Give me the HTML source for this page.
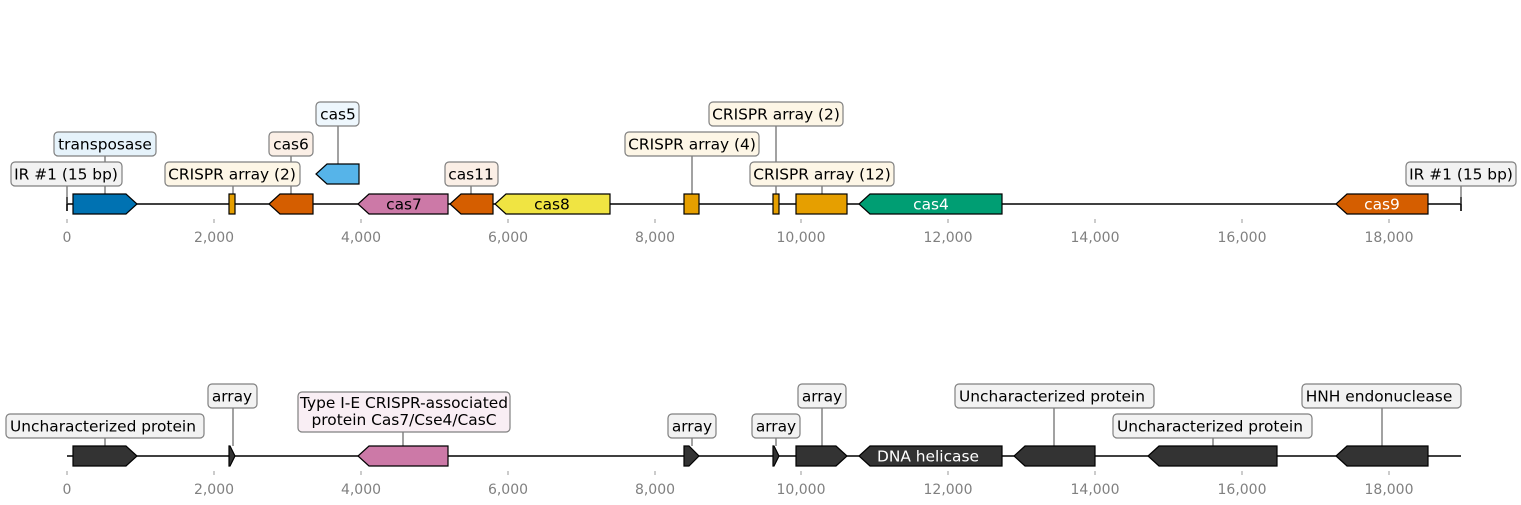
<!DOCTYPE html>
<html><head><meta charset="utf-8"><style>
html,body{margin:0;padding:0;background:#fff;}
svg{display:block;font-family:"DejaVu Sans","Liberation Sans",sans-serif;}
.lb{font-size:15.4px;text-anchor:middle;fill:#000;}
.ax{font-size:14px;text-anchor:middle;fill:#808080;}
.bx{stroke:#808080;stroke-width:1.2;}
.ld{stroke:#444;stroke-width:1;}
.f{stroke:#000;stroke-width:1.2;}
</style></head><body>
<svg width="1521" height="505" viewBox="0 0 1521 505">
<line x1="67" y1="204" x2="1461" y2="204" stroke="#000" stroke-width="1.6"/>
<line x1="67" y1="197" x2="67" y2="211" stroke="#000" stroke-width="1.6"/>
<line x1="1461" y1="197" x2="1461" y2="211" stroke="#000" stroke-width="1.6"/>
<g class="ld">
<line x1="67" y1="186" x2="67" y2="204"/>
<line x1="105" y1="156" x2="105" y2="194"/>
<line x1="233" y1="186" x2="233" y2="194"/>
<line x1="291" y1="156" x2="291" y2="194"/>
<line x1="338" y1="126" x2="338" y2="164"/>
<line x1="471" y1="186" x2="471" y2="194"/>
<line x1="692" y1="156" x2="692" y2="194"/>
<line x1="776" y1="126" x2="776" y2="194"/>
<line x1="822" y1="186" x2="822" y2="194"/>
<line x1="1461" y1="186" x2="1461" y2="204"/>
</g>
<polygon class="f" fill="#0072B2" points="73,194 126,194 137,204 126,214 73,214"/>
<rect class="f" fill="#E69F00" x="229" y="194" width="6" height="20"/>
<polygon class="f" fill="#D55E00" points="313,194 280,194 269,204 280,214 313,214"/>
<polygon class="f" fill="#56B4E9" points="359,164 327,164 316,174 327,184 359,184"/>
<polygon class="f" fill="#CC79A7" points="448,194 369,194 358,204 369,214 448,214"/>
<polygon class="f" fill="#D55E00" points="493,194 461,194 450,204 461,214 493,214"/>
<polygon class="f" fill="#F0E442" points="610,194 506,194 495,204 506,214 610,214"/>
<rect class="f" fill="#E69F00" x="684" y="194" width="15" height="20"/>
<rect class="f" fill="#E69F00" x="773" y="194" width="6" height="20"/>
<rect class="f" fill="#E69F00" x="796" y="194" width="51" height="20"/>
<polygon class="f" fill="#009E73" points="1002,194 870,194 859,204 870,214 1002,214"/>
<polygon class="f" fill="#D55E00" points="1428,194 1347,194 1336,204 1347,214 1428,214"/>
<text class="lb" x="404" y="209.5">cas7</text>
<text class="lb" x="552" y="209.5">cas8</text>
<text class="lb" x="931" y="209.5" style="fill:#fff">cas4</text>
<text class="lb" x="1382" y="209.5" style="fill:#fff">cas9</text>
<rect class="bx" fill="#f2f2f2" x="11" y="162" width="111" height="24" rx="4"/><text class="lb" x="66" y="179.5">IR #1 (15 bp)</text>
<rect class="bx" fill="#e6f3fb" x="54" y="132" width="102" height="24" rx="4"/><text class="lb" x="105" y="149.5">transposase</text>
<rect class="bx" fill="#fdf6e6" x="165" y="162" width="135" height="24" rx="4"/><text class="lb" x="232" y="179.5">CRISPR array (2)</text>
<rect class="bx" fill="#fbefe6" x="269" y="132" width="44" height="24" rx="4"/><text class="lb" x="291" y="149.5">cas6</text>
<rect class="bx" fill="#eef7fd" x="316" y="102" width="43" height="24" rx="4"/><text class="lb" x="338" y="119.5">cas5</text>
<rect class="bx" fill="#fbefe6" x="445" y="162" width="53" height="24" rx="4"/><text class="lb" x="471" y="179.5">cas11</text>
<rect class="bx" fill="#fdf6e6" x="625" y="132" width="134" height="24" rx="4"/><text class="lb" x="692" y="149.5">CRISPR array (4)</text>
<rect class="bx" fill="#fdf6e6" x="709" y="102" width="134" height="24" rx="4"/><text class="lb" x="776" y="119.5">CRISPR array (2)</text>
<rect class="bx" fill="#fdf6e6" x="750" y="162" width="144" height="24" rx="4"/><text class="lb" x="822" y="179.5">CRISPR array (12)</text>
<rect class="bx" fill="#f2f2f2" x="1406" y="162" width="110" height="24" rx="4"/><text class="lb" x="1461" y="179.5">IR #1 (15 bp)</text>
<g stroke="#999" stroke-width="1">
<line x1="67" y1="219" x2="67" y2="223"/><line x1="214" y1="219" x2="214" y2="223"/><line x1="361" y1="219" x2="361" y2="223"/><line x1="508" y1="219" x2="508" y2="223"/><line x1="655" y1="219" x2="655" y2="223"/><line x1="801" y1="219" x2="801" y2="223"/><line x1="948" y1="219" x2="948" y2="223"/><line x1="1095" y1="219" x2="1095" y2="223"/><line x1="1242" y1="219" x2="1242" y2="223"/><line x1="1389" y1="219" x2="1389" y2="223"/>
</g>
<g class="ax">
<text x="67" y="242">0</text><text x="214" y="242">2,000</text><text x="361" y="242">4,000</text><text x="508" y="242">6,000</text><text x="655" y="242">8,000</text><text x="801" y="242">10,000</text><text x="948" y="242">12,000</text><text x="1095" y="242">14,000</text><text x="1242" y="242">16,000</text><text x="1389" y="242">18,000</text>
</g>

<line x1="67" y1="456" x2="1461" y2="456" stroke="#000" stroke-width="1.6"/>
<g class="ld">
<line x1="105" y1="438" x2="105" y2="446"/>
<line x1="233" y1="408" x2="233" y2="446"/>
<line x1="403" y1="432" x2="403" y2="446"/>
<line x1="692" y1="438" x2="692" y2="446"/>
<line x1="776" y1="438" x2="776" y2="446"/>
<line x1="822" y1="408" x2="822" y2="446"/>
<line x1="1054" y1="408" x2="1054" y2="446"/>
<line x1="1213" y1="438" x2="1213" y2="446"/>
<line x1="1382" y1="408" x2="1382" y2="446"/>
</g>
<g fill="#333333">
<polygon class="f" points="73,446 126,446 137,456 126,466 73,466"/>
<polygon class="f" points="229,446 230,446 235,456 230,466 229,466"/>
<polygon class="f" fill="#CC79A7" points="448,446 369,446 358,456 369,466 448,466"/>
<polygon class="f" points="684,446 689,446 699,456 689,466 684,466"/>
<polygon class="f" points="773,446 774,446 779,456 774,466 773,466"/>
<polygon class="f" points="796,446 836,446 847,456 836,466 796,466"/>
<polygon class="f" points="1002,446 870,446 859,456 870,466 1002,466"/>
<polygon class="f" points="1095,446 1025,446 1014,456 1025,466 1095,466"/>
<polygon class="f" points="1277,446 1159,446 1148,456 1159,466 1277,466"/>
<polygon class="f" points="1428,446 1347,446 1336,456 1347,466 1428,466"/>
</g>
<text class="lb" x="928" y="461.5" style="fill:#fff">DNA helicase</text>
<g>
<rect class="bx" fill="#f2f2f2" x="6" y="414" width="198" height="24" rx="4"/><text class="lb" x="103" y="431.5">Uncharacterized protein</text>
<rect class="bx" fill="#f2f2f2" x="208" y="384" width="49" height="24" rx="4"/><text class="lb" x="232" y="401.5">array</text>
<rect class="bx" fill="#f9eef4" x="298" y="392" width="212" height="40" rx="4"/><text class="lb" x="404" y="408">Type I-E CRISPR-associated</text><text class="lb" x="404" y="425">protein Cas7/Cse4/CasC</text>
<rect class="bx" fill="#f2f2f2" x="668" y="414" width="48" height="24" rx="4"/><text class="lb" x="692" y="431.5">array</text>
<rect class="bx" fill="#f2f2f2" x="752" y="414" width="48" height="24" rx="4"/><text class="lb" x="776" y="431.5">array</text>
<rect class="bx" fill="#f2f2f2" x="798" y="384" width="48" height="24" rx="4"/><text class="lb" x="822" y="401.5">array</text>
<rect class="bx" fill="#f2f2f2" x="955" y="384" width="199" height="24" rx="4"/><text class="lb" x="1052" y="401.5">Uncharacterized protein</text>
<rect class="bx" fill="#f2f2f2" x="1113" y="414" width="199" height="24" rx="4"/><text class="lb" x="1210" y="431.5">Uncharacterized protein</text>
<rect class="bx" fill="#f2f2f2" x="1302" y="384" width="159" height="24" rx="4"/><text class="lb" x="1379" y="401.5">HNH endonuclease</text>
</g>
<g stroke="#999" stroke-width="1">
<line x1="67" y1="471" x2="67" y2="475"/><line x1="214" y1="471" x2="214" y2="475"/><line x1="361" y1="471" x2="361" y2="475"/><line x1="508" y1="471" x2="508" y2="475"/><line x1="655" y1="471" x2="655" y2="475"/><line x1="801" y1="471" x2="801" y2="475"/><line x1="948" y1="471" x2="948" y2="475"/><line x1="1095" y1="471" x2="1095" y2="475"/><line x1="1242" y1="471" x2="1242" y2="475"/><line x1="1389" y1="471" x2="1389" y2="475"/>
</g>
<g class="ax">
<text x="67" y="494">0</text><text x="214" y="494">2,000</text><text x="361" y="494">4,000</text><text x="508" y="494">6,000</text><text x="655" y="494">8,000</text><text x="801" y="494">10,000</text><text x="948" y="494">12,000</text><text x="1095" y="494">14,000</text><text x="1242" y="494">16,000</text><text x="1389" y="494">18,000</text>
</g>
</svg>
</body></html>
